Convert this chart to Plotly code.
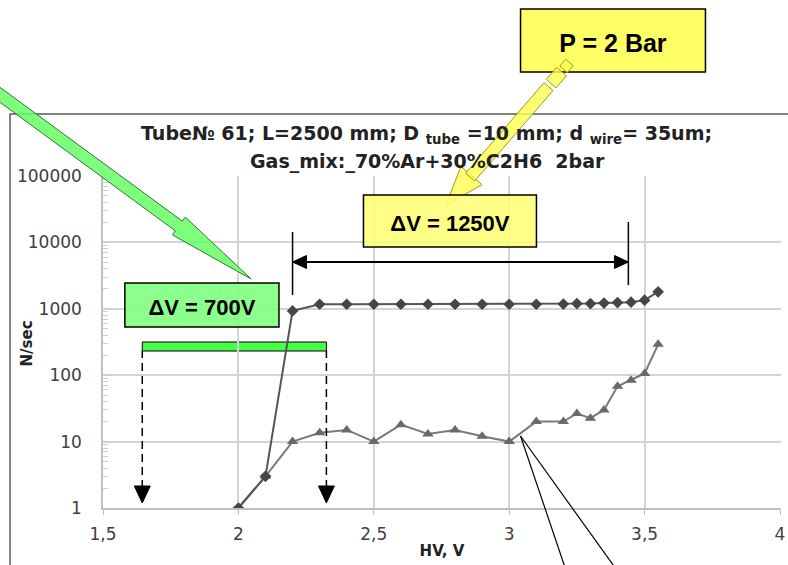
import math
import plotly.graph_objects as go

# Counting rate versus high voltage for tube No 61 (70% Ar + 30% C2H6, 2 bar)
hv_plateau = [2.0, 2.1, 2.2, 2.3, 2.4, 2.5, 2.6, 2.7, 2.8, 2.9, 3.0,
              3.1, 3.2, 3.25, 3.3, 3.35, 3.4, 3.45, 3.5, 3.55]
rate_plateau = [1, 3, 930, 1170, 1170, 1170, 1170, 1170, 1170, 1170, 1170,
                1170, 1180, 1200, 1200, 1220, 1240, 1260, 1350, 1800]

hv_noise = [2.0, 2.1, 2.2, 2.3, 2.4, 2.5, 2.6, 2.7, 2.8, 2.9, 3.0,
            3.1, 3.2, 3.25, 3.3, 3.35, 3.4, 3.45, 3.5, 3.55]
rate_noise = [1, 3, 10, 13.6, 15, 10, 18, 13, 15, 12, 10,
              20, 20, 26.5, 22.5, 30, 68, 84, 106, 292]

x_tick_vals = [1.5, 2, 2.5, 3, 3.5, 4]
x_tick_text = ["1,5", "2", "2,5", "3", "3,5", "4"]
y_tick_vals = [1, 10, 100, 1000, 10000, 100000]
y_tick_text = ["1", "10", "100", "1000", "10000", "100000"]

plateau_span = [2.2, 3.44]       # ΔV = 1250 V
threshold_span = [1.645, 2.325]  # ΔV = 700 V

# ---- page geometry (pixels) ----
W, H = 788, 565
ML, MR, MT, MB = 103, 3, 176, 57
PW, PH = W - ML - MR, H - MT - MB
X0, X1 = 1.5, 4.0 + 1.0 / 272.4
XS = PW / (X1 - X0)  # pixels per volt


def fx(px):
    return (px - ML) / PW


def fy(py):
    return (H - MB - py) / PH


def path_paper(pts):
    return "M " + " L ".join(f"{fx(x):.5f},{fy(y):.5f}" for x, y in pts) + " Z"


def path_xdata(pts):
    # x in data units, y in pixels
    return "M " + " L ".join(f"{x:.5f},{fy(y):.5f}" for x, y in pts) + " Z"


def block_arrow(tail, tip, shaft_hw, head_hw, head_len):
    dx, dy = tip[0] - tail[0], tip[1] - tail[1]
    n = math.hypot(dx, dy)
    ux, uy = dx / n, dy / n
    nx, ny = -uy, ux
    bx, by = tip[0] - ux * head_len, tip[1] - uy * head_len
    return [
        (tail[0] + nx * shaft_hw, tail[1] + ny * shaft_hw),
        (bx + nx * shaft_hw, by + ny * shaft_hw),
        (bx + nx * head_hw, by + ny * head_hw),
        tip,
        (bx - nx * head_hw, by - ny * head_hw),
        (bx - nx * shaft_hw, by - ny * shaft_hw),
        (tail[0] - nx * shaft_hw, tail[1] - ny * shaft_hw),
    ]


def axis_piece(tip, u, s0, s1, hw):
    nx, ny = -u[1], u[0]
    a = (tip[0] + u[0] * s0, tip[1] + u[1] * s0)
    b = (tip[0] + u[0] * s1, tip[1] + u[1] * s1)
    return [
        (a[0] + nx * hw, a[1] + ny * hw),
        (b[0] + nx * hw, b[1] + ny * hw),
        (b[0] - nx * hw, b[1] - ny * hw),
        (a[0] - nx * hw, a[1] - ny * hw),
    ]


fig = go.Figure()

fig.add_trace(go.Scatter(
    x=hv_noise, y=rate_noise, mode="lines+markers",
    line=dict(color="#7a7a7a", width=2),
    marker=dict(symbol="triangle-up", size=10, color="#6a6a6a"),
    showlegend=False,
))
fig.add_trace(go.Scatter(
    x=hv_plateau, y=rate_plateau, mode="lines+markers",
    line=dict(color="#555555", width=2),
    marker=dict(symbol="diamond", size=9, color="#464646"),
    showlegend=False,
))

shapes = []

# chart-area frame
shapes.append(dict(type="rect", xref="paper", yref="paper",
                   x0=fx(9.5), x1=fx(900), y0=fy(700), y1=fy(114),
                   line=dict(color="#5a5a5a", width=1.5), layer="above"))

# big green pointer coming from the upper-left corner
shapes.append(dict(type="path", xref="paper", yref="paper",
                   path=path_paper(block_arrow((-25, 77), (252, 279), 6, 11, 90)),
                   fillcolor="rgba(102,255,102,0.85)",
                   line=dict(color="#2e7a2e", width=1), layer="above"))

# "P = 2 Bar" label box
shapes.append(dict(type="rect", xref="paper", yref="paper",
                   x0=fx(523), x1=fx(709), y0=fy(72), y1=fy(9),
                   fillcolor="#ffff66", line=dict(color="black", width=1.5),
                   layer="above",
                   label=dict(text="<b>P = 2 Bar</b>", textposition="middle center",
                              font=dict(family="Liberation Sans, Arial, sans-serif",
                                        size=25, color="black"))))

# yellow pencil-shaped pointer
tip = (448, 205)
tail = (570, 65)
L = math.hypot(tail[0] - tip[0], tail[1] - tip[1])
u = ((tail[0] - tip[0]) / L, (tail[1] - tip[1]) / L)
pencil = [
    ([(tip[0] + u[0] * 39 + (-u[1]) * 14, tip[1] + u[1] * 39 + u[0] * 14),
      tip,
      (tip[0] + u[0] * 39 - (-u[1]) * 14, tip[1] + u[1] * 39 - u[0] * 14)]),
    axis_piece(tip, u, 37, 157, 6),
    axis_piece(tip, u, 161, 177, 6.5),
    axis_piece(tip, u, 180, 189, 5),
]
for piece in pencil:
    shapes.append(dict(type="path", xref="paper", yref="paper",
                       path=path_paper(piece),
                       fillcolor="rgba(255,255,80,0.8)",
                       line=dict(color="#9a9a20", width=1), layer="above"))

# "ΔV = 1250V" box
shapes.append(dict(type="rect", xref="paper", yref="paper",
                   x0=fx(365), x1=fx(539), y0=fy(247), y1=fy(195),
                   fillcolor="rgba(255,255,120,0.88)",
                   line=dict(color="black", width=1.5), layer="above",
                   label=dict(text="<b>ΔV = 1250V</b>", textposition="middle center",
                              font=dict(family="Liberation Sans, Arial, sans-serif",
                                        size=22, color="black"))))

# plateau width bracket
pa, pb = plateau_span
shapes.append(dict(type="line", xref="x", yref="paper", x0=pa, x1=pa,
                   y0=fy(295), y1=fy(232), line=dict(color="black", width=1.5)))
shapes.append(dict(type="line", xref="x", yref="paper", x0=pb, x1=pb,
                   y0=fy(285), y1=fy(222), line=dict(color="black", width=1.5)))
shapes.append(dict(type="line", xref="x", yref="paper", x0=pa, x1=pb,
                   y0=fy(262), y1=fy(262), line=dict(color="black", width=2)))
ah = 14 / XS
shapes.append(dict(type="path", xref="x", yref="paper",
                   path=path_xdata([(pa, 262), (pa + ah, 255.5), (pa + ah, 268.5)]),
                   fillcolor="black", line=dict(color="black", width=1)))
shapes.append(dict(type="path", xref="x", yref="paper",
                   path=path_xdata([(pb, 262), (pb - ah, 255.5), (pb - ah, 268.5)]),
                   fillcolor="black", line=dict(color="black", width=1)))

# "ΔV = 700V" box
shapes.append(dict(type="rect", xref="paper", yref="paper",
                   x0=fx(125), x1=fx(280), y0=fy(327), y1=fy(283),
                   fillcolor="rgba(128,255,128,0.9)",
                   line=dict(color="black", width=1.5), layer="above",
                   label=dict(text="<b>ΔV = 700V</b>", textposition="middle center",
                              font=dict(family="Liberation Sans, Arial, sans-serif",
                                        size=22, color="black"))))

# threshold-region bar and the dashed drop lines
ta, tb = threshold_span
shapes.append(dict(type="rect", xref="x", yref="paper",
                   x0=ta, x1=tb, y0=fy(351), y1=fy(342),
                   fillcolor="rgba(51,255,51,0.9)",
                   line=dict(color="black", width=1), layer="between"))
hw = 8 / XS
for xv in (ta, tb):
    shapes.append(dict(type="line", xref="x", yref="paper", x0=xv, x1=xv,
                       y0=fy(488), y1=fy(351),
                       line=dict(color="black", width=1.5, dash="8px,5px")))
    shapes.append(dict(type="path", xref="x", yref="paper",
                       path=path_xdata([(xv - hw, 486), (xv + hw, 486), (xv, 503)]),
                       fillcolor="black", line=dict(color="black", width=1)))

# callout lines leaving the noise curve
for end_x in (572, 627):
    shapes.append(dict(type="line", xref="paper", yref="paper",
                       x0=fx(523), y0=fy(436), x1=fx(end_x), y1=fy(580),
                       line=dict(color="black", width=1.2), layer="above"))

title_font = dict(family="DejaVu Sans, sans-serif", size=19, color="#222222")
annotations = [
    dict(xref="paper", yref="paper", x=fx(428), y=fy(134), showarrow=False,
         xanchor="center", yanchor="middle", font=title_font,
         text="<b>Tube№ 61; L=2500 mm; D <sub>tube</sub> =10 mm; d <sub>wire</sub>= 35um;</b>"),
    dict(xref="paper", yref="paper", x=fx(429), y=fy(162), showarrow=False,
         xanchor="center", yanchor="middle", font=title_font,
         text="<b>Gas_mix:_70%Ar+30%C2H6  2bar</b>"),
    dict(xref="paper", yref="paper", x=fx(27), y=fy(343), showarrow=False,
         xanchor="center", yanchor="middle", textangle=-90,
         font=dict(family="DejaVu Sans, sans-serif", size=15, color="#222222"),
         text="<b>N/sec</b>"),
]

tick_font = dict(family="DejaVu Sans, sans-serif", size=17, color="#404040")
axis_title_font = dict(family="DejaVu Sans, sans-serif", size=15, color="#222222")

fig.update_layout(
    width=W, height=H,
    margin=dict(l=ML, r=MR, t=MT, b=MB, pad=0),
    paper_bgcolor="white", plot_bgcolor="white",
    shapes=shapes, annotations=annotations,
    showlegend=False,
    xaxis=dict(
        range=[X0, X1], tickvals=x_tick_vals, ticktext=x_tick_text,
        showgrid=True, gridcolor="#d4d4d4", gridwidth=1.5,
        showline=True, linecolor="#c0c0c0", linewidth=1.5,
        ticks="outside", ticklen=5, tickcolor="#c0c0c0",
        tickfont=tick_font, ticklabelstandoff=5, ticklabeloverflow="allow",
        title=dict(text="<b>HV, V</b>", font=axis_title_font, standoff=2),
        zeroline=False,
    ),
    yaxis=dict(
        type="log", range=[0, 5], tickvals=y_tick_vals, ticktext=y_tick_text,
        showgrid=True, gridcolor="#d4d4d4", gridwidth=1.5,
        showline=True, linecolor="#c0c0c0", linewidth=1.5,
        ticks="inside", ticklen=8, tickcolor="#c8c8c8",
        minor=dict(ticks="inside", ticklen=5, tickcolor="#d0d0d0", dtick="D1", showgrid=False),
        tickfont=tick_font, ticklabelstandoff=16, ticklabeloverflow="allow",
        zeroline=False,
    ),
)

fig.write_html("out.html")
